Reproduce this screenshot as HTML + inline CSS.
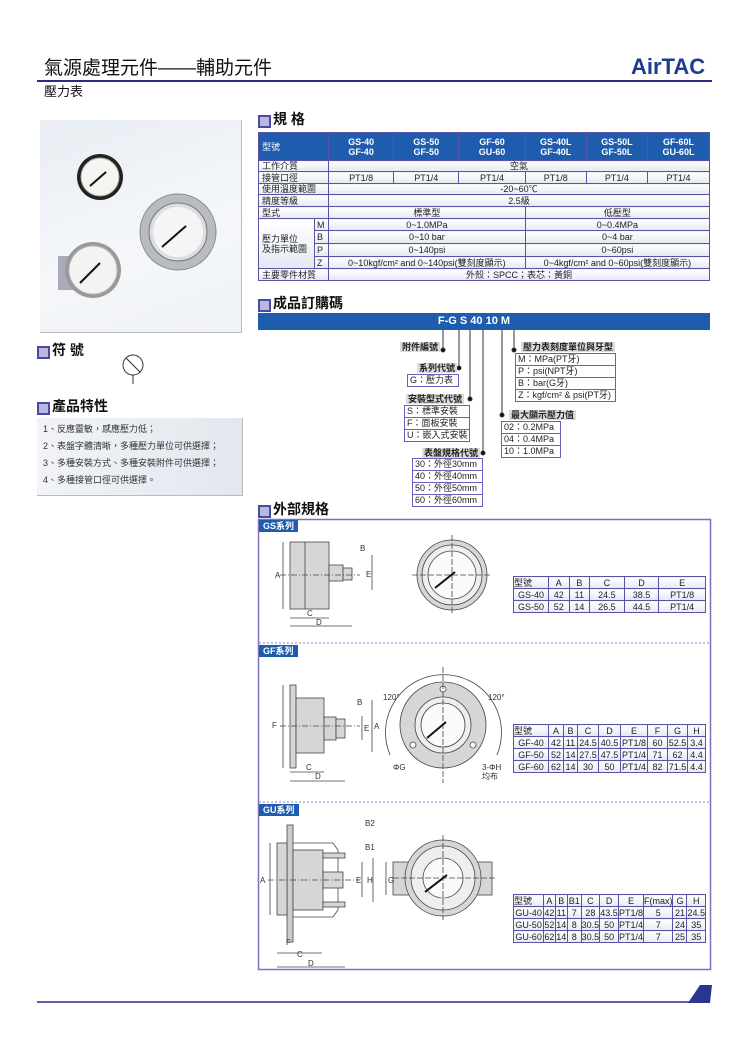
<!DOCTYPE html>
<html><head><meta charset="utf-8">
<style>
*{margin:0;padding:0;box-sizing:border-box}
body{width:750px;height:1061px;background:#fff;position:relative;overflow:hidden;font-family:"Liberation Sans","Noto Sans CJK TC",sans-serif;color:#222}
.a{position:absolute}
.h{position:absolute;font-size:14px;font-weight:bold;color:#111;line-height:14px;padding-left:15px}
.h:before{content:"";position:absolute;left:0;top:3px;width:9px;height:9px;border:2px solid #4b4ba0;background:#b9b9e0}
table{border-collapse:collapse;position:absolute;font-size:9px;line-height:10px}
td{border:1px solid #5b52a8;text-align:center;padding:0;white-space:nowrap;background:linear-gradient(#fff,#e4e9f2)}
.sp td{height:12px}
.lab{position:absolute;background:#dcdcdc;font-size:9px;font-weight:bold;line-height:10px;padding:0 2px;white-space:nowrap}
.bx{position:absolute;border:1px solid #6a5fc0;font-size:9px;line-height:11px}
.bx div{border-bottom:1px solid #6a5fc0;padding-left:2px;white-space:nowrap}
.bx div:last-child{border-bottom:0}
.tab{position:absolute;background:#1e5cae;color:#fff;font-size:9px;font-weight:bold;line-height:12px;padding:0 4px;height:12px}
</style></head><body>

<div class="a" style="left:44px;top:58px;font-size:19px;line-height:22px;color:#111">氣源處理元件——輔助元件</div>
<div class="a" style="left:631px;top:55px;font-size:22px;font-weight:bold;color:#1c3d8e;line-height:24px">AirTAC</div>
<div class="a" style="left:37px;top:80px;width:675px;height:2px;background:#2b2b8c"></div>
<div class="a" style="left:44px;top:84px;font-size:13px;line-height:16px;color:#111">壓力表</div>

<div class="a" style="left:40px;top:120px;width:202px;height:213px;background:linear-gradient(160deg,#e9eef4,#f5f7fa 60%,#eef1f5);border-right:1px solid #bbb;border-bottom:1px solid #bbb"></div>
<svg class="a" style="left:0;top:0" width="750" height="1061">
 <g>
  <circle cx="100" cy="177" r="23" fill="#222"/><circle cx="100" cy="177" r="19" fill="#f4f4f0" stroke="#aaa"/><line x1="90" y1="186" x2="106" y2="172" stroke="#111" stroke-width="2"/>
  <circle cx="178" cy="232" r="38" fill="#b8bcc2" stroke="#888"/><circle cx="178" cy="232" r="29" fill="#ddd" stroke="#777"/><circle cx="178" cy="232" r="25" fill="#f3f5f7"/><line x1="162" y1="247" x2="186" y2="226" stroke="#111" stroke-width="2"/>
  <rect x="58" y="256" width="16" height="34" fill="#aab" /><circle cx="93" cy="270" r="28" fill="#999"/><circle cx="93" cy="270" r="24" fill="#f3f4f2" stroke="#bbb"/><line x1="80" y1="283" x2="100" y2="263" stroke="#111" stroke-width="2"/>
 </g>
 <circle cx="133" cy="365" r="10" fill="none" stroke="#333" stroke-width="1"/><line x1="126" y1="358" x2="140" y2="372" stroke="#333"/><line x1="133" y1="375" x2="133" y2="384" stroke="#333"/>
 <g stroke="#333" stroke-width="1" fill="#111">
  <line x1="443" y1="330" x2="443" y2="350"/><circle cx="443" cy="350" r="2"/>
  <line x1="459" y1="330" x2="459" y2="368"/><circle cx="459" cy="368" r="2"/>
  <line x1="470" y1="330" x2="470" y2="399"/><circle cx="470" cy="399" r="2"/>
  <line x1="483" y1="330" x2="483" y2="453"/><circle cx="483" cy="453" r="2"/>
  <line x1="502" y1="330" x2="502" y2="415"/><circle cx="502" cy="415" r="2"/>
  <line x1="514" y1="330" x2="514" y2="350"/><circle cx="514" cy="350" r="2"/>
 </g>
 <rect x="258.5" y="519.5" width="452" height="450" fill="none" stroke="#7d70c4" stroke-width="1.5"/>
 <line x1="259" y1="643" x2="710" y2="643" stroke="#8d80cc" stroke-dasharray="2,2"/>
 <line x1="259" y1="802" x2="710" y2="802" stroke="#8d80cc" stroke-dasharray="2,2"/>
 <line x1="37" y1="1002" x2="705" y2="1002" stroke="#2b2b8c" stroke-width="1.5"/>
 <polygon points="688,1003 700,985 712,985 710,1003" fill="#2a3590"/>
 <g stroke="#444" stroke-width="0.8" fill="#d6d6d6">
  <rect x="290" y="542" width="39" height="67"/><line x1="305" y1="542" x2="305" y2="609"/>
  <rect x="329" y="565" width="14" height="16"/><rect x="343" y="568" width="9" height="12"/>
  <line x1="283" y1="542" x2="283" y2="609" fill="none"/><line x1="290" y1="618" x2="329" y2="618"/><line x1="290" y1="626" x2="352" y2="626"/>
  <line x1="372" y1="555" x2="372" y2="590"/>
  <line x1="280" y1="575" x2="360" y2="575" stroke-dasharray="6,2,1,2"/>
  <circle cx="452" cy="575" r="35"/><circle cx="452" cy="575" r="30" fill="#eee"/><circle cx="452" cy="575" r="24" fill="#fafafa"/>
  <line x1="412" y1="575" x2="492" y2="575" fill="none" stroke-dasharray="6,2"/><line x1="452" y1="535" x2="452" y2="615" fill="none" stroke-dasharray="6,2"/>
  <line x1="435" y1="588" x2="455" y2="572" stroke="#111" stroke-width="2"/>
  <rect x="290" y="685" width="6" height="83"/><rect x="296" y="698" width="28" height="55"/>
  <rect x="324" y="717" width="12" height="23"/><rect x="336" y="719" width="9" height="19"/>
  <line x1="283" y1="685" x2="283" y2="768"/><line x1="372" y1="700" x2="372" y2="752"/><line x1="362" y1="716" x2="362" y2="740"/>
  <line x1="290" y1="772" x2="324" y2="772"/><line x1="290" y1="781" x2="345" y2="781"/>
  <line x1="280" y1="726" x2="360" y2="726" stroke-dasharray="6,2,1,2"/>
  <path d="M390,755 A58,58 0 1,1 497,755" fill="none"/>
  <circle cx="443" cy="725" r="43"/><circle cx="443" cy="725" r="28" fill="#eee"/><circle cx="443" cy="725" r="22" fill="#fafafa"/>
  <circle cx="443" cy="689" r="3" fill="#fff"/><circle cx="413" cy="745" r="3" fill="#fff"/><circle cx="473" cy="745" r="3" fill="#fff"/>
  <line x1="443" y1="667" x2="443" y2="783" fill="none" stroke-dasharray="6,2"/>
  <line x1="427" y1="738" x2="446" y2="722" stroke="#111" stroke-width="2"/>
  <rect x="287" y="825" width="6" height="117" fill="#ccc"/><rect x="277" y="843" width="10" height="72"/><rect x="293" y="850" width="30" height="60"/>
  <path d="M293,843 L333,843 L338,850 L338,910 L333,917 L293,917" fill="none"/>
  <rect x="323" y="872" width="20" height="16"/><rect x="323" y="853" width="22" height="5"/><rect x="323" y="902" width="22" height="5"/>
  <line x1="270" y1="843" x2="270" y2="915"/><line x1="277" y1="953" x2="322" y2="953"/><line x1="277" y1="967" x2="345" y2="967"/>
  <line x1="362" y1="862" x2="362" y2="897"/><line x1="373" y1="858" x2="373" y2="902"/>
  <line x1="268" y1="880" x2="360" y2="880" stroke-dasharray="6,2,1,2"/>
  <rect x="393" y="862" width="99" height="33"/>
  <circle cx="443" cy="878" r="38"/><circle cx="443" cy="878" r="32" fill="#eee"/><circle cx="443" cy="878" r="20" fill="#fafafa"/>
  <line x1="393" y1="878" x2="495" y2="878" fill="none" stroke-dasharray="6,2"/><line x1="443" y1="835" x2="443" y2="920" fill="none" stroke-dasharray="6,2"/>
  <line x1="425" y1="892" x2="447" y2="875" stroke="#111" stroke-width="2"/>
  <line x1="386" y1="862" x2="386" y2="895"/>
 </g>
 <g font-size="8" fill="#333" font-family="Liberation Sans">
  <text x="360" y="551">B</text><text x="366" y="577">E</text><text x="275" y="578">A</text><text x="307" y="616">C</text><text x="316" y="625">D</text>
  <text x="357" y="705">B</text><text x="364" y="731">E</text><text x="374" y="729">A</text><text x="272" y="728">F</text><text x="306" y="770">C</text><text x="315" y="779">D</text>
  <text x="383" y="700">120°</text><text x="488" y="700">120°</text><text x="393" y="770">ΦG</text><text x="482" y="770">3-ΦH</text><text x="482" y="779">均布</text>
  <text x="365" y="826">B2</text><text x="365" y="850">B1</text><text x="356" y="883">E</text><text x="367" y="883">H</text><text x="260" y="883">A</text><text x="286" y="945">F</text><text x="297" y="957">C</text><text x="308" y="966">D</text><text x="388" y="883">G</text>
 </g>
</svg>

<div class="h" style="left:37px;top:343px">符 號</div>
<div class="h" style="left:37px;top:399px">產品特性</div>
<div class="a" style="left:37px;top:418px;width:206px;height:78px;background:linear-gradient(90deg,#f1f3f7,#e2e7ef);border-right:1px solid #bbb;border-bottom:1px solid #bbb;font-size:9px;line-height:17px;padding:3px 0 0 6px;color:#333">1、反應靈敏，感應壓力低；<br>2、表盤字體清晰，多種壓力單位可供選擇；<br>3、多種安裝方式、多種安裝附件可供選擇；<br>4、多種接管口徑可供選擇。</div>

<div class="h" style="left:258px;top:112px">規 格</div>
<table style="left:258px;top:132px;width:452px">
<tr style="height:28px"><td colspan="2" style="background:#1e5cae;color:#fff;text-align:left;padding-left:3px;width:70px">型號</td>
<td style="background:#1e5cae;color:#fff;font-weight:bold">GS-40<br>GF-40</td><td style="background:#1e5cae;color:#fff;font-weight:bold">GS-50<br>GF-50</td><td style="background:#1e5cae;color:#fff;font-weight:bold">GF-60<br>GU-60</td><td style="background:#1e5cae;color:#fff;font-weight:bold">GS-40L<br>GF-40L</td><td style="background:#1e5cae;color:#fff;font-weight:bold">GS-50L<br>GF-50L</td><td style="background:#1e5cae;color:#fff;font-weight:bold">GF-60L<br>GU-60L</td></tr>
<tr style="height:11px"><td colspan="2" style="text-align:left;padding-left:3px">工作介質</td><td colspan="6">空氣</td></tr>
<tr style="height:12px"><td colspan="2" style="text-align:left;padding-left:3px">接管口徑</td><td>PT1/8</td><td>PT1/4</td><td>PT1/4</td><td>PT1/8</td><td>PT1/4</td><td>PT1/4</td></tr>
<tr style="height:11px"><td colspan="2" style="text-align:left;padding-left:3px">使用溫度範圍</td><td colspan="6">-20~60℃</td></tr>
<tr style="height:12px"><td colspan="2" style="text-align:left;padding-left:3px">精度等級</td><td colspan="6">2.5級</td></tr>
<tr style="height:12px"><td colspan="2" style="text-align:left;padding-left:3px">型式</td><td colspan="3">標準型</td><td colspan="3">低壓型</td></tr>
<tr style="height:12px"><td rowspan="4" style="text-align:left;padding-left:3px;width:56px">壓力單位<br>及指示範圍</td><td style="width:14px;text-align:left;padding-left:2px">M</td><td colspan="3">0~1.0MPa</td><td colspan="3">0~0.4MPa</td></tr>
<tr style="height:13px"><td style="text-align:left;padding-left:2px">B</td><td colspan="3">0~10 bar</td><td colspan="3">0~4 bar</td></tr>
<tr style="height:13px"><td style="text-align:left;padding-left:2px">P</td><td colspan="3">0~140psi</td><td colspan="3">0~60psi</td></tr>
<tr style="height:12px"><td style="text-align:left;padding-left:2px">Z</td><td colspan="3">0~10kgf/cm² and 0~140psi(雙刻度顯示)</td><td colspan="3">0~4kgf/cm² and 0~60psi(雙刻度顯示)</td></tr>
<tr style="height:12px"><td colspan="2" style="text-align:left;padding-left:3px">主要零件材質</td><td colspan="6">外殼：SPCC；表芯：黃銅</td></tr>
</table>

<div class="h" style="left:258px;top:296px">成品訂購碼</div>
<div class="a" style="left:258px;top:313px;width:452px;height:17px;background:#1e5cae;color:#fff;font-weight:bold;font-size:11px;line-height:17px;text-align:center;padding-right:20px">F-G S 40 10 M</div>
<div class="lab" style="left:400px;top:342px">附件編號</div>
<div class="lab" style="left:417px;top:363px">系列代號</div>
<div class="bx" style="left:407px;top:374px;width:52px"><div>G：壓力表</div></div>
<div class="lab" style="left:406px;top:394px">安裝型式代號</div>
<div class="bx" style="left:404px;top:405px;width:66px"><div>S：標準安裝</div><div>F：面板安裝</div><div>U：嵌入式安裝</div></div>
<div class="lab" style="left:422px;top:448px">表盤規格代號</div>
<div class="bx" style="left:412px;top:458px;width:71px"><div>30：外徑30mm</div><div>40：外徑40mm</div><div>50：外徑50mm</div><div>60：外徑60mm</div></div>
<div class="lab" style="left:521px;top:342px">壓力表刻度單位與牙型</div>
<div class="bx" style="left:515px;top:353px;width:101px"><div>M：MPa(PT牙)</div><div>P：psi(NPT牙)</div><div>B：bar(G牙)</div><div>Z：kgf/cm² &amp; psi(PT牙)</div></div>
<div class="lab" style="left:509px;top:410px">最大顯示壓力值</div>
<div class="bx" style="left:501px;top:421px;width:60px"><div>02：0.2MPa</div><div>04：0.4MPa</div><div>10：1.0MPa</div></div>

<div class="h" style="left:258px;top:502px">外部規格</div>
<div class="tab" style="left:259px;top:520px">GS系列</div>
<div class="tab" style="left:259px;top:645px">GF系列</div>
<div class="tab" style="left:259px;top:804px">GU系列</div>

<table class="sp" style="left:513px;top:576px;width:193px">
<tr><td style="width:35px;text-align:left">型號</td><td>A</td><td>B</td><td>C</td><td>D</td><td>E</td></tr>
<tr><td>GS-40</td><td>42</td><td>11</td><td>24.5</td><td>38.5</td><td>PT1/8</td></tr>
<tr><td>GS-50</td><td>52</td><td>14</td><td>26.5</td><td>44.5</td><td>PT1/4</td></tr>
</table>
<table class="sp" style="left:513px;top:724px;width:193px">
<tr><td style="width:35px;text-align:left">型號</td><td style="width:15px">A</td><td style="width:14px">B</td><td style="width:21px">C</td><td style="width:22px">D</td><td style="width:27px">E</td><td style="width:20px">F</td><td style="width:20px">G</td><td>H</td></tr>
<tr><td>GF-40</td><td>42</td><td>11</td><td>24.5</td><td>40.5</td><td>PT1/8</td><td>60</td><td>52.5</td><td>3.4</td></tr>
<tr><td>GF-50</td><td>52</td><td>14</td><td>27.5</td><td>47.5</td><td>PT1/4</td><td>71</td><td>62</td><td>4.4</td></tr>
<tr><td>GF-60</td><td>62</td><td>14</td><td>30</td><td>50</td><td>PT1/4</td><td>82</td><td>71.5</td><td>4.4</td></tr>
</table>
<table class="sp" style="left:513px;top:894px;width:193px">
<tr><td style="width:32px;text-align:left">型號</td><td style="width:12px">A</td><td style="width:13px">B</td><td style="width:15px">B1</td><td style="width:18px">C</td><td style="width:19px">D</td><td style="width:23px">E</td><td style="width:27px">F(max)</td><td style="width:16px">G</td><td>H</td></tr>
<tr><td>GU-40</td><td>42</td><td>11</td><td>7</td><td>28</td><td>43.5</td><td>PT1/8</td><td>5</td><td>21</td><td>24.5</td></tr>
<tr><td>GU-50</td><td>52</td><td>14</td><td>8</td><td>30.5</td><td>50</td><td>PT1/4</td><td>7</td><td>24</td><td>35</td></tr>
<tr><td>GU-60</td><td>62</td><td>14</td><td>8</td><td>30.5</td><td>50</td><td>PT1/4</td><td>7</td><td>25</td><td>35</td></tr>
</table>
</body></html>
